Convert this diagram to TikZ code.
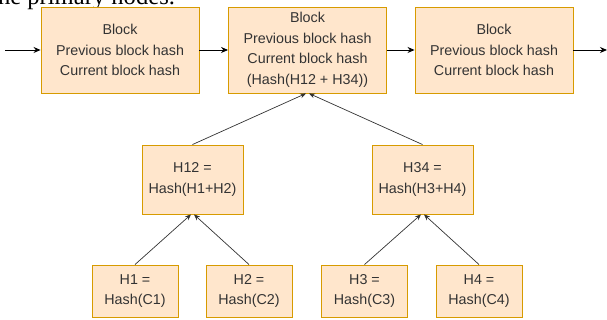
\documentclass[tikz,border=0pt]{standalone}
\usepackage{fontspec}
\setmainfont{Liberation Sans}
\newfontfamily\serifcap{Liberation Serif}
\usetikzlibrary{arrows.meta}
\definecolor{boxfill}{HTML}{FFE6CC}
\definecolor{boxline}{HTML}{D79B00}
\definecolor{boxtext}{HTML}{333333}
\tikzset{
  hashbox/.style={draw=boxline, fill=boxfill, line width=0.9pt, text=boxtext,
    align=center, inner sep=0pt, font=\fontsize{14.3}{20.5}\selectfont},
  blockbox/.style={hashbox, minimum width=158pt, minimum height=86pt},
  midbox/.style={hashbox, minimum width=101pt, minimum height=69pt},
  leafbox/.style={hashbox, minimum width=86pt, minimum height=52pt},
}
\begin{document}
\begin{tikzpicture}[x=1pt,y=1pt]
      \clip (0,0) rectangle (607,320);
      \node[anchor=base west, inner sep=0pt, font=\serifcap\fontsize{24.6}{28}\selectfont]
        (caption) at (-9,315.5) {the primary nodes.};
      \coordinate (in) at (5,270);
      \coordinate (out) at (607,270);
      \draw
        (120,270) node[blockbox] (b1){Block\\Previous block hash\\Current block hash}
        (307.5,270) node[blockbox] (b2){Block\\Previous block hash\\Current block hash\\(Hash(H12 + H34))}
        (494,270) node[blockbox] (b3){Block\\Previous block hash\\Current block hash}
        (192.5,140.5) node[midbox] (h12){H12 =\\Hash(H1+H2)}
        (422.5,140.5) node[midbox] (h34){H34 =\\Hash(H3+H4)}
        (135,29) node[leafbox] (h1){H1 =\\Hash(C1)}
        (249,29) node[leafbox] (h2){H2 =\\Hash(C2)}
        (364.5,29) node[leafbox] (h3){H3 =\\Hash(C3)}
        (479,29) node[leafbox] (h4){H4 =\\Hash(C4)};
      \begin{scope}[-{Stealth[length=7pt,width=6pt]}, line width=0.9pt]
        \draw (in) to (b1);
        \draw (b1) to (b2);
        \draw (b2) to (b3);
        \draw (b3) to (out);
      \end{scope}
      \begin{scope}[-{Stealth[length=6pt,width=5pt]}, line width=0.7pt, draw=boxtext]
        \draw (h12.north) to ([xshift=-1.5pt]b2.south);
        \draw (h34.north) to ([xshift=1.5pt]b2.south);
        \draw (h1.north) to ([xshift=-1.5pt]h12.south);
        \draw (h2.north) to ([xshift=1.5pt]h12.south);
        \draw (h3.north) to ([xshift=-1.5pt]h34.south);
        \draw (h4.north) to ([xshift=1.5pt]h34.south);
      \end{scope}
    \end{tikzpicture}
\end{document}
